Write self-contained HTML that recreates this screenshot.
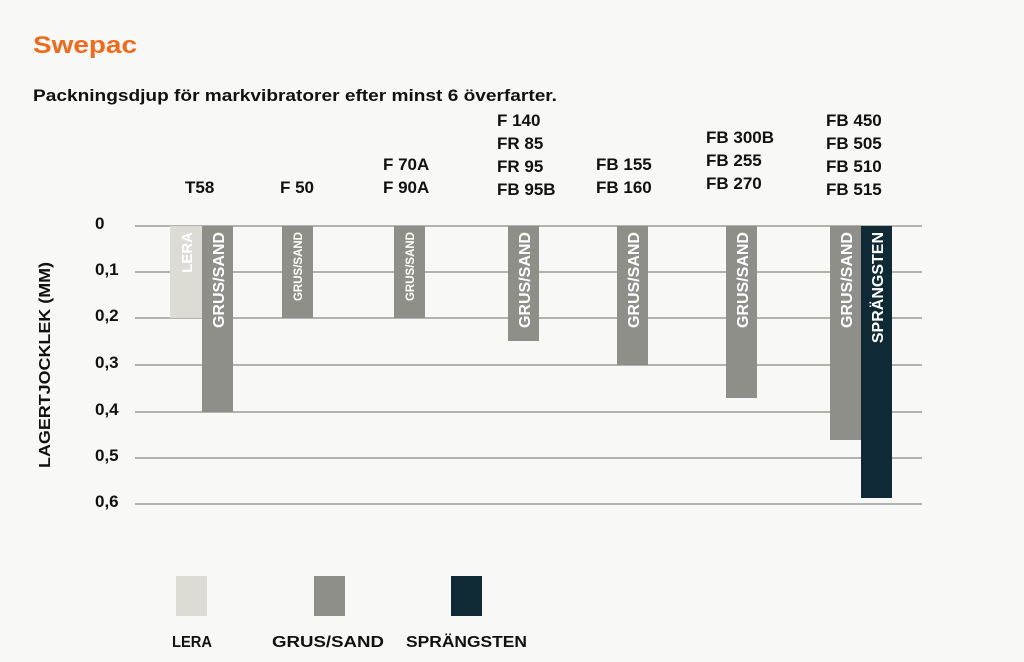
<!DOCTYPE html>
<html><head><meta charset="utf-8"><style>
html,body{margin:0;padding:0;background:#f8f8f7;}
svg{display:block;font-family:"Liberation Sans",sans-serif;font-weight:bold;}
</style></head><body>
<svg width="1024" height="662" viewBox="0 0 1024 662" xmlns="http://www.w3.org/2000/svg">
<rect width="1024" height="662" fill="#f8f8f7"/>
<text x="33" y="53" font-size="24" fill="#ee6a1c" textLength="104" lengthAdjust="spacingAndGlyphs">Swepac</text>
<text x="33" y="101" font-size="16.5" fill="#111" textLength="524" lengthAdjust="spacingAndGlyphs">Packningsdjup för markvibratorer efter minst 6 överfarter.</text>
<g font-size="17" fill="#111">
<text x="185" y="193">T58</text>
<text x="280" y="193">F 50</text>
<text x="383" y="170">F 70A</text><text x="383" y="193">F 90A</text>
<text x="497" y="126">F 140</text><text x="497" y="149">FR 85</text><text x="497" y="172">FR 95</text><text x="497" y="195">FB 95B</text>
<text x="596" y="170">FB 155</text><text x="596" y="193">FB 160</text>
<text x="706" y="143">FB 300B</text><text x="706" y="166">FB 255</text><text x="706" y="189">FB 270</text>
<text x="826" y="126">FB 450</text><text x="826" y="149">FB 505</text><text x="826" y="172">FB 510</text><text x="826" y="195">FB 515</text>
</g>
<g font-size="17" fill="#111">
<text x="95" y="229">0</text><text x="95" y="275">0,1</text><text x="95" y="321">0,2</text><text x="95" y="368">0,3</text><text x="95" y="415">0,4</text><text x="95" y="461">0,5</text><text x="95" y="507">0,6</text>
</g>
<text transform="translate(50,365) rotate(-90)" text-anchor="middle" font-size="16" fill="#111" textLength="206" lengthAdjust="spacingAndGlyphs">LAGERTJOCKLEK (MM)</text>
<g stroke="#9a9a96" stroke-width="1.5">
<line x1="135" y1="226" x2="922" y2="226"/><line x1="135" y1="272" x2="922" y2="272"/><line x1="135" y1="318" x2="922" y2="318"/><line x1="135" y1="365" x2="922" y2="365"/><line x1="135" y1="412" x2="922" y2="412"/><line x1="135" y1="458" x2="922" y2="458"/><line x1="135" y1="504" x2="922" y2="504"/>
</g>
<rect x="170" y="226" width="32" height="92" fill="#dcdcd4"/>
<rect x="202" y="226" width="31" height="186" fill="#8f8f8a"/>
<rect x="282" y="226" width="31" height="92" fill="#8f8f8a"/>
<rect x="394" y="226" width="31" height="92" fill="#8f8f8a"/>
<rect x="508" y="226" width="31" height="115" fill="#8f8f8a"/>
<rect x="617" y="226" width="31" height="139" fill="#8f8f8a"/>
<rect x="726" y="226" width="31" height="172" fill="#8f8f8a"/>
<rect x="830" y="226" width="31" height="214" fill="#8f8f8a"/>
<rect x="861" y="226" width="31" height="272" fill="#0f2a35"/>
<g fill="#fff" text-anchor="end">
<text transform="translate(192,232) rotate(-90)" font-size="15">LERA</text>
<text transform="translate(224,232) rotate(-90)" font-size="16">GRUS/SAND</text>
<text transform="translate(302,232) rotate(-90)" font-size="11.5">GRUS/SAND</text>
<text transform="translate(414,232) rotate(-90)" font-size="11.5">GRUS/SAND</text>
<text transform="translate(530,232) rotate(-90)" font-size="16">GRUS/SAND</text>
<text transform="translate(639,232) rotate(-90)" font-size="16">GRUS/SAND</text>
<text transform="translate(748,232) rotate(-90)" font-size="16">GRUS/SAND</text>
<text transform="translate(852,232) rotate(-90)" font-size="16">GRUS/SAND</text>
<text transform="translate(883,232) rotate(-90)" font-size="16">SPRÄNGSTEN</text>
</g>
<rect x="176" y="576" width="31" height="40" fill="#dcdcd4"/>
<rect x="314" y="576" width="31" height="40" fill="#8f8f8a"/>
<rect x="451" y="576" width="31" height="40" fill="#0f2a35"/>
<g font-size="16" fill="#111">
<text x="172" y="647" textLength="40" lengthAdjust="spacingAndGlyphs">LERA</text>
<text x="272" y="647" textLength="112" lengthAdjust="spacingAndGlyphs">GRUS/SAND</text>
<text x="406" y="647" textLength="121" lengthAdjust="spacingAndGlyphs">SPRÄNGSTEN</text>
</g>
</svg>
</body></html>
